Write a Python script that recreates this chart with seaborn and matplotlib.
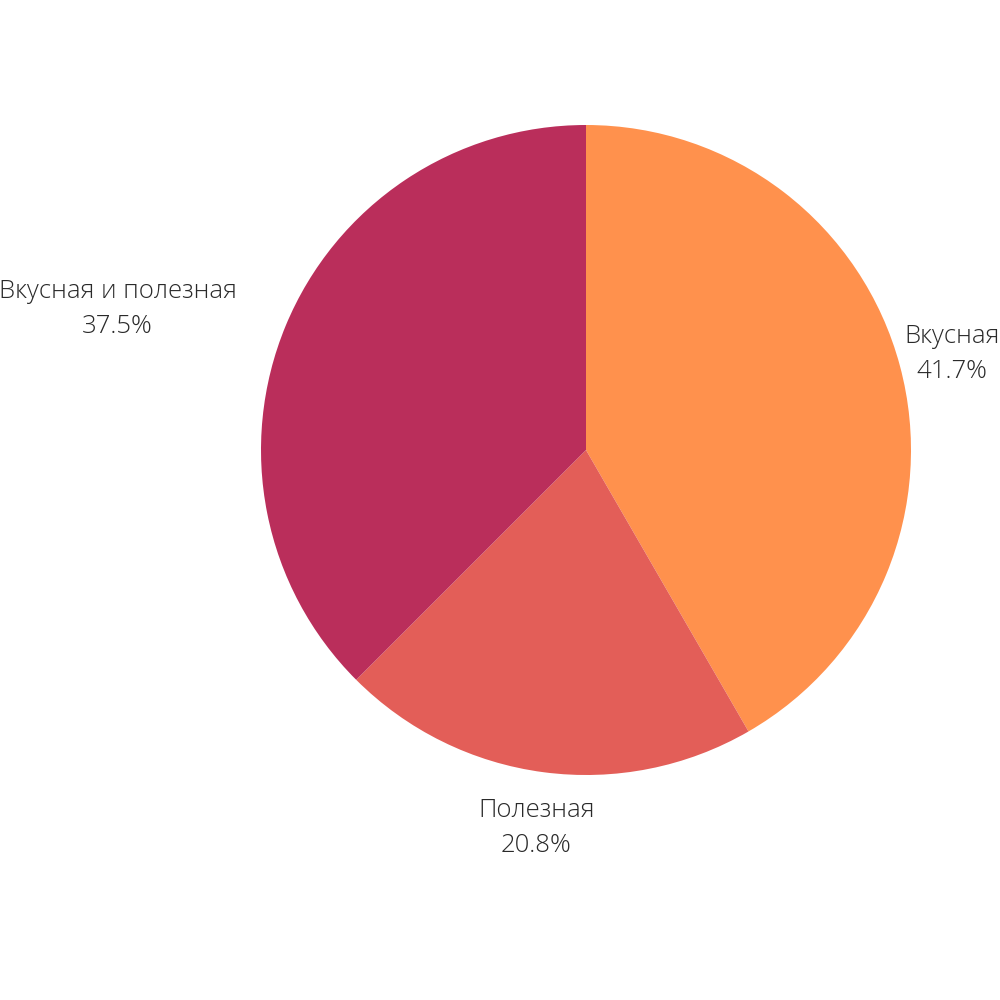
import numpy as np
import matplotlib.pyplot as plt
import seaborn as sns

# Slice data (shares of 24 answers)
categories = ["Вкусная", "Полезная", "Вкусная и полезная"]
counts = [10, 5, 9]
colors = ["#FF914D", "#E35E58", "#BA2E5B"]

sns.set_theme(style="white")
plt.rcParams["font.family"] = ["Open Sans", "DejaVu Sans"]

fig = plt.figure(figsize=(10, 10), dpi=100)
ax = fig.add_axes([0.261, 0.225, 0.65, 0.65])

wedges, _ = ax.pie(
    counts,
    colors=colors,
    startangle=90,
    counterclock=False,
    radius=1.0,
    wedgeprops={"linewidth": 0},
)
ax.set_xlim(-1, 1)
ax.set_ylim(-1, 1)
ax.set_aspect("equal")
ax.axis("off")

# Label placement: (radial distance, angle shift deg, horizontal alignment)
label_style = [
    (1.165, -0.3, "center"),
    (1.172, 0.0, "center"),
    (1.16, 0.5, "right"),
]

total = sum(counts)
for w, name, n, (dist, shift, ha) in zip(wedges, categories, counts, label_style):
    mid = np.deg2rad((w.theta1 + w.theta2) / 2 + shift)
    x, y = dist * np.cos(mid), dist * np.sin(mid)
    ax.text(
        x, y, f"{name}\n{100 * n / total:.1f}%",
        ha=ha, va="center", fontsize=18.5, fontweight="light",
        color="#2a2a2a", linespacing=1.52, multialignment="center",
        clip_on=False,
    )

fig.savefig("out.png", dpi=100, facecolor="white")
plt.close(fig)
